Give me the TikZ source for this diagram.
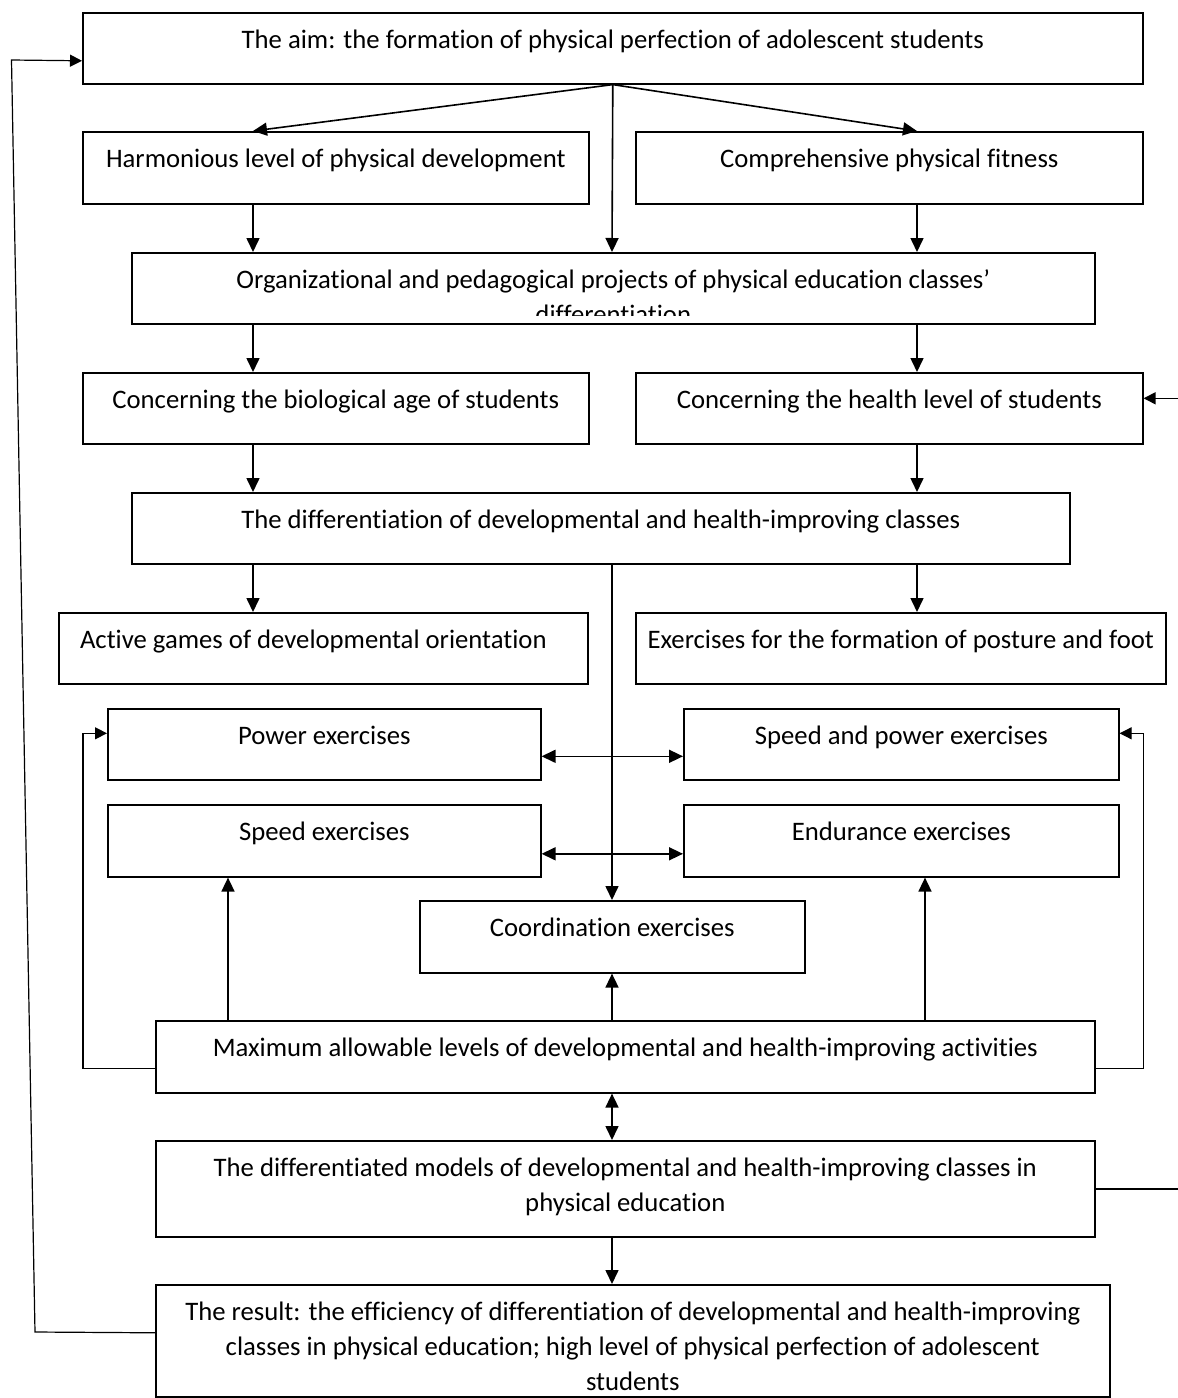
\documentclass[tikz,border=0pt]{standalone}
\usepackage{fontspec}
\setmainfont{Carlito}[RawFeature={-liga;-clig;-calt;-dlig}]
\usetikzlibrary{arrows.meta}
\newcommand\fstline{\rule{0pt}{36pt}}

\begin{document}
\begin{tikzpicture}[x=1pt,y=-1pt,
  box/.style={draw,line width=1.6pt,inner sep=0pt,anchor=north west},
  txt/.style={inner sep=0pt,anchor=north,align=center,
    font=\fontsize{26.7}{35}\selectfont},
  arr/.style={line width=1.6pt,-{Triangle[length=14pt,width=13pt]}},
  darr/.style={line width=1.6pt,{Triangle[length=14pt,width=13pt]}-{Triangle[length=14pt,width=13pt]}},
  fbarr/.style={line width=1.2pt,-{Triangle[length=12pt,width=12pt]}}]
 \useasboundingbox (0,0) rectangle (1178,1398);
 \coordinate (lx) at (253,0);
 \coordinate (rx) at (917,0);
 \coordinate (cx) at (612,0);
 \coordinate (ux) at (228,0);
 \coordinate (vx) at (925,0);

 \node[box,minimum width=1060,minimum height=71] (aim) at (82,12) {};
 \node[box,minimum width=506,minimum height=72] (harm) at (82,131) {};
 \node[box,minimum width=507,minimum height=72] (comp) at (635,131) {};
 \node[box,minimum width=963,minimum height=71] (org) at (131,252) {};
 \node[box,minimum width=506,minimum height=71] (bio) at (82,372) {};
 \node[box,minimum width=507,minimum height=71] (health) at (635,372) {};
 \node[box,minimum width=938,minimum height=71] (diff) at (131,492) {};
 \node[box,minimum width=529,minimum height=71] (active) at (58,612) {};
 \node[box,minimum width=530,minimum height=71] (posture) at (635,612) {};
 \node[box,minimum width=433,minimum height=71] (power) at (107,708) {};
 \node[box,minimum width=435,minimum height=71] (spow) at (683,708) {};
 \node[box,minimum width=433,minimum height=72] (speed) at (107,804) {};
 \node[box,minimum width=435,minimum height=72] (endur) at (683,804) {};
 \node[box,minimum width=385,minimum height=72] (coord) at (419,900) {};
 \node[box,minimum width=939,minimum height=72] (max) at (155,1020) {};
 \node[box,minimum width=939,minimum height=96] (model) at (155,1140) {};
 \node[box,minimum width=954,minimum height=112] (result) at (155,1284) {};

 \node[txt] (aim-t) at (aim.north) {\fstline The aim: the formation of physical perfection of adolescent students};
 \node[txt] (harm-t) at (harm.north) {\fstline Harmonious level of physical development};
 \node[txt] (comp-t) at (comp.north) {\fstline Comprehensive physical fitness};
 \begin{scope}
  \clip (org.north west) rectangle ([yshift=9pt]org.south east);
  \node[txt] (org-t) at (org.north) {\fstline Organizational and pedagogical projects of physical education classes’\\differentiation};
 \end{scope}
 \node[txt] (bio-t) at (bio.north) {\fstline Concerning the biological age of students};
 \node[txt] (health-t) at (health.north) {\fstline Concerning the health level of students};
 \node[txt] (diff-t) at (diff.north) {\fstline The differentiation of developmental and health-improving classes};
 \node[txt,xshift=-10pt] (active-t) at (active.north) {\fstline Active games of developmental orientation};
 \node[txt] (posture-t) at (posture.north) {\fstline Exercises for the formation of posture and foot};
 \node[txt] (power-t) at (power.north) {\fstline Power exercises};
 \node[txt] (spow-t) at (spow.north) {\fstline Speed and power exercises};
 \node[txt] (speed-t) at (speed.north) {\fstline Speed exercises};
 \node[txt] (endur-t) at (endur.north) {\fstline Endurance exercises};
 \node[txt] (coord-t) at (coord.north) {\fstline Coordination exercises};
 \node[txt] (max-t) at (max.north) {\fstline Maximum allowable levels of developmental and health-improving activities};
 \node[txt] (model-t) at (model.north) {\fstline The differentiated models of developmental and health-improving classes in\\physical education};
 \node[txt] (result-t) at (result.north) {\fstline The result: the efficiency of differentiation of developmental and health-improving\\classes in physical education; high level of physical perfection of adolescent\\students};

 \draw[arr] (aim.south) -- (lx |- harm.north);
 \draw[arr] (aim.south) -- (rx |- comp.north);
 \draw[arr] (aim.south) -- (cx |- org.north);
 \draw[arr] (lx |- harm.south) -- (lx |- org.north);
 \draw[arr] (rx |- comp.south) -- (rx |- org.north);
 \draw[arr] (lx |- org.south) -- (lx |- bio.north);
 \draw[arr] (rx |- org.south) -- (rx |- health.north);
 \draw[arr] (lx |- bio.south) -- (lx |- diff.north);
 \draw[arr] (rx |- health.south) -- (rx |- diff.north);
 \draw[arr] (lx |- diff.south) -- (lx |- active.north);
 \draw[arr] (rx |- diff.south) -- (rx |- posture.north);
 \draw[arr] (cx |- diff.south) -- (cx |- coord.north);
 \draw[darr] ([yshift=-12pt]power.east) -- ([yshift=-12pt]spow.west);
 \draw[darr] ([yshift=-13pt]speed.east) -- ([yshift=-13pt]endur.west);
 \draw[arr] (ux |- max.north) -- (ux |- speed.south);
 \draw[arr] (cx |- max.north) -- (cx |- coord.south);
 \draw[arr] (vx |- max.north) -- (vx |- endur.south);
 \draw[fbarr] ([yshift=-12pt]max.west) -| ([xshift=-24pt,yshift=11pt]power.west) -- ([yshift=11pt]power.west);
 \draw[fbarr] ([yshift=-12pt]max.east) -| ([xshift=24pt,yshift=11pt]spow.east) -- ([yshift=11pt]spow.east);
 \draw[darr] (cx |- max.south) -- (cx |- model.north);
 \draw[arr] (cx |- model.south) -- (cx |- result.north);
 \draw[fbarr,line width=1.5pt] (model.east) -- ++(88,0) |- ([yshift=10pt]health.east);
 \draw[fbarr] ([yshift=8pt]result.west) -- (35,1332) -- (11.5,60) -- ([yshift=-12.5pt]aim.west);
\end{tikzpicture}
\end{document}
